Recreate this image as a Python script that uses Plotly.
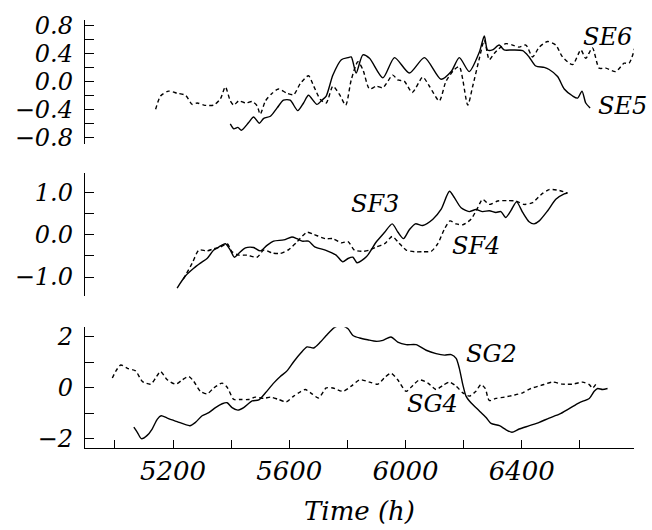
import plotly.graph_objects as go

# ---------------- data ----------------
se6_t = [5140, 5157, 5185, 5214, 5243, 5266, 5283, 5306, 5340, 5363, 5380, 5397, 5409, 5426, 5449, 5472,
         5489, 5500, 5518, 5541, 5563, 5592, 5615, 5638, 5666, 5684, 5707, 5727, 5750, 5773, 5794, 5813,
         5836, 5853, 5876, 5899, 5922, 5956, 5973, 5996, 6023, 6059, 6082, 6116, 6139, 6168, 6185, 6214,
         6231, 6254, 6271, 6288, 6305, 6322, 6345, 6368, 6391, 6414, 6437, 6460, 6489, 6517, 6540, 6575,
         6603, 6620, 6643, 6666, 6689, 6723, 6752, 6769, 6788]
se6_v = [-0.40, -0.21, -0.14, -0.17, -0.20, -0.33, -0.31, -0.34, -0.34, -0.25, -0.08, -0.28, -0.34, -0.28, -0.31, -0.29,
         -0.35, -0.47, -0.28, -0.17, -0.11, -0.17, -0.19, -0.03, 0.08, -0.07, -0.26, -0.31, -0.07, -0.19, -0.34, 0.02,
         0.28, 0.17, -0.11, -0.07, -0.09, 0.09, 0.02, 0.00, -0.16, 0.06, -0.07, -0.28, 0.00, 0.17, 0.21, -0.34,
         -0.07, 0.33, 0.59, 0.31, 0.40, 0.47, 0.54, 0.52, 0.49, 0.52, 0.35, 0.49, 0.57, 0.52, 0.35, 0.24,
         0.45, 0.33, 0.48, 0.19, 0.19, 0.14, 0.26, 0.26, 0.47]

se5_t = [5397, 5409, 5423, 5435, 5460, 5477, 5497, 5512, 5535, 5558, 5580, 5603, 5629, 5649, 5666, 5695,
         5712, 5727, 5750, 5779, 5802, 5813, 5830, 5853, 5876, 5922, 5962, 6013, 6065, 6122, 6157, 6185,
         6219, 6254, 6271, 6282, 6299, 6322, 6339, 6368, 6403, 6425, 6448, 6477, 6494, 6523, 6546, 6575,
         6592, 6607, 6620, 6635]
se5_v = [-0.61, -0.68, -0.66, -0.70, -0.59, -0.51, -0.60, -0.53, -0.50, -0.38, -0.27, -0.27, -0.42, -0.31, -0.20, -0.33,
         -0.27, -0.21, 0.09, 0.31, 0.34, 0.35, 0.12, 0.38, 0.33, 0.05, 0.34, 0.12, 0.34, 0.03, 0.14, 0.34,
         0.14, 0.42, 0.65, 0.45, 0.45, 0.52, 0.45, 0.45, 0.44, 0.35, 0.22, 0.20, 0.17, 0.07, -0.11, -0.21,
         -0.24, -0.14, -0.31, -0.38]

sf3_t = [5214, 5243, 5271, 5294, 5317, 5340, 5357, 5380, 5397, 5411, 5426, 5449, 5477, 5500, 5523, 5546,
         5581, 5609, 5626, 5644, 5666, 5689, 5724, 5761, 5784, 5802, 5819, 5833, 5865, 5899, 5928, 5954,
         5974, 5993, 6013, 6034, 6059, 6094, 6122, 6151, 6168, 6191, 6219, 6242, 6265, 6288, 6311, 6328,
         6345, 6363, 6382, 6403, 6425, 6442, 6460, 6489, 6517, 6546, 6557]
sf3_v = [-1.26, -0.97, -0.79, -0.67, -0.56, -0.36, -0.29, -0.21, -0.36, -0.53, -0.44, -0.31, -0.30, -0.38, -0.25, -0.15,
         -0.12, -0.05, -0.09, -0.15, -0.15, -0.29, -0.36, -0.48, -0.64, -0.56, -0.53, -0.66, -0.52, -0.17, 0.06, 0.26,
         0.06, -0.09, 0.12, 0.26, 0.22, 0.37, 0.60, 1.03, 0.88, 0.64, 0.55, 0.60, 0.55, 0.57, 0.53, 0.55,
         0.41, 0.58, 0.78, 0.53, 0.31, 0.26, 0.33, 0.57, 0.84, 0.97, 0.99]

sf4_t = [5235, 5266, 5289, 5317, 5340, 5363, 5386, 5403, 5426, 5455, 5489, 5512, 5541, 5569, 5598, 5626,
         5661, 5684, 5724, 5750, 5779, 5802, 5824, 5853, 5876, 5899, 5928, 5954, 5974, 6002, 6031, 6059,
         6088, 6111, 6134, 6153, 6174, 6197, 6225, 6248, 6265, 6288, 6317, 6351, 6380, 6408, 6437, 6466,
         6494, 6529, 6557]
sf4_v = [-1.05, -0.67, -0.36, -0.38, -0.33, -0.29, -0.21, -0.40, -0.48, -0.48, -0.53, -0.36, -0.43, -0.44, -0.35, -0.17,
         0.06, 0.01, -0.09, -0.09, -0.19, -0.16, -0.36, -0.39, -0.36, -0.29, -0.21, -0.04, -0.17, -0.36, -0.40, -0.40,
         -0.39, -0.21, 0.14, 0.33, 0.26, 0.24, 0.37, 0.64, 0.84, 0.72, 0.80, 0.81, 0.80, 0.72, 0.76, 0.95,
         1.07, 1.05, 0.99]

sg2_t = [5065, 5077, 5091, 5111, 5128, 5146, 5159, 5180, 5214, 5258, 5277, 5300, 5323, 5346, 5369, 5386,
         5403, 5423, 5443, 5472, 5495, 5518, 5546, 5569, 5592, 5615, 5638, 5661, 5684, 5707, 5727, 5756,
         5779, 5802, 5819, 5842, 5870, 5899, 5922, 5950, 5973, 6002, 6036, 6071, 6105, 6134, 6157, 6174,
         6185, 6197, 6208, 6225, 6254, 6277, 6294, 6323, 6346, 6366, 6391, 6426, 6460, 6494, 6529, 6563,
         6597, 6632, 6649, 6661, 6678, 6695]
sg2_v = [-1.54, -1.74, -1.99, -1.86, -1.61, -1.22, -1.09, -1.18, -1.32, -1.48, -1.35, -1.09, -0.97, -0.77, -0.62, -0.58,
         -0.77, -0.87, -0.77, -0.51, -0.47, -0.19, 0.19, 0.45, 0.67, 1.03, 1.35, 1.61, 1.57, 1.80, 2.06, 2.38,
         2.45, 2.32, 2.06, 1.96, 1.89, 1.83, 1.87, 2.00, 1.80, 1.70, 1.70, 1.48, 1.35, 1.29, 1.31, 1.16,
         0.77, 0.13, -0.32, -0.58, -0.90, -1.16, -1.39, -1.48, -1.64, -1.74, -1.61, -1.48, -1.35, -1.18, -1.03, -0.81,
         -0.58, -0.41, -0.13, -0.02, -0.06, -0.02]

sg4_t = [4991, 5002, 5020, 5043, 5071, 5094, 5123, 5140, 5157, 5180, 5209, 5232, 5254, 5271, 5294, 5317,
         5340, 5369, 5386, 5409, 5432, 5460, 5483, 5512, 5535, 5563, 5590, 5615, 5638, 5655, 5678, 5701,
         5727, 5750, 5784, 5813, 5842, 5876, 5905, 5928, 5950, 5973, 6002, 6025, 6048, 6077, 6105, 6128,
         6151, 6174, 6197, 6219, 6242, 6259, 6274, 6288, 6311, 6340, 6374, 6403, 6431, 6466, 6506, 6540,
         6575, 6609, 6632, 6643, 6657]
sg4_v = [0.39, 0.64, 0.90, 0.77, 0.67, 0.26, 0.15, 0.39, 0.64, 0.32, 0.15, 0.32, 0.45, 0.26, -0.13, -0.23,
         0.00, 0.19, 0.03, -0.45, -0.45, -0.45, -0.36, -0.41, -0.36, -0.45, -0.54, -0.32, -0.15, -0.06, -0.23, -0.39,
         0.00, 0.00, -0.13, 0.07, 0.32, 0.23, 0.15, 0.41, 0.58, 0.32, -0.13, 0.10, 0.32, 0.19, -0.06, 0.10,
         0.23, 0.07, -0.19, -0.32, -0.13, 0.13, -0.02, -0.49, -0.41, -0.36, -0.28, -0.19, -0.02, 0.10, 0.23, 0.15,
         0.15, 0.23, 0.13, 0.00, 0.19]

# tick labels
x_tickvals = [5200, 5600, 6000, 6400]
x_ticktext = ["5200", "5600", "6000", "6400"]
top_tickvals = [0.8, 0.4, 0.0, -0.4, -0.8]
top_ticktext = ["0.8", "0.4", "0.0", "−0.4", "−0.8"]
mid_tickvals = [1.0, 0.0, -1.0]
mid_ticktext = ["1.0", "0.0", "−1.0"]
bot_tickvals = [2, 0, -2]
bot_ticktext = ["2", "0", "−2"]

x_range = [4897, 6786]
top_range = [-0.893, 0.879]
mid_range = [-1.449, 1.458]
bot_range = [-2.355, 2.38]

# ---------------- figure ----------------
DASH = "4px,3px"
LW = 1.4
fig = go.Figure()

def add(t, v, xa, ya, dashed):
    fig.add_trace(go.Scatter(x=t, y=v, mode="lines", xaxis=xa, yaxis=ya, showlegend=False,
                             line=dict(color="black", width=LW, dash=DASH if dashed else "solid",
                                       shape="spline", smoothing=0.7)))

add(se6_t, se6_v, "x3", "y3", True)
add(se5_t, se5_v, "x3", "y3", False)
add(sf3_t, sf3_v, "x2", "y2", False)
add(sf4_t, sf4_v, "x2", "y2", True)
add(sg2_t, sg2_v, "x", "y", False)
add(sg4_t, sg4_v, "x", "y", True)

tick_font = dict(family="DejaVu Serif", size=24, color="black")
xtick_font = dict(family="DejaVu Serif", size=26, color="black")
lab_font = dict(family="DejaVu Serif", size=24, color="black", style="italic")

def it(labels):
    return ["<i>" + s + "</i>" for s in labels]

def yax(domain, rng, vals, texts, minor, anchor):
    return dict(domain=domain, range=rng, anchor=anchor, showgrid=False, zeroline=False,
                showline=True, linecolor="black", linewidth=1.4,
                ticks="inside", ticklen=9, tickwidth=1.3, tickcolor="black",
                ticklabelstandoff=6,
                tickmode="array", tickvals=vals, ticktext=it(texts), tickfont=tick_font,
                minor=dict(dtick=minor, tick0=0, ticks="inside", ticklen=9, tickwidth=1.3, tickcolor="black"))

hidden_x = dict(range=x_range, showline=False, showgrid=False, zeroline=False,
                showticklabels=False, ticks="")

fig.update_layout(
    width=652, height=530,
    margin=dict(l=85, r=18, t=13, b=82),
    paper_bgcolor="white", plot_bgcolor="white",
    xaxis=dict(domain=[0, 1], range=x_range, anchor="y", showgrid=False, zeroline=False,
               showline=True, linecolor="black", linewidth=1.4,
               ticks="inside", ticklen=8, tickwidth=1.3, tickcolor="black",
               tickmode="array", tickvals=x_tickvals, ticktext=it(x_ticktext), tickfont=xtick_font,
               minor=dict(dtick=200, tick0=5000, ticks="inside", ticklen=8, tickwidth=1.3, tickcolor="black")),
    xaxis2=dict(domain=[0, 1], anchor="y2", **hidden_x),
    xaxis3=dict(domain=[0, 1], anchor="y3", **hidden_x),
    yaxis=yax([0.0, 0.282], bot_range, bot_tickvals, bot_ticktext, 1, "x"),
    yaxis2=yax([0.355, 0.642], mid_range, mid_tickvals, mid_ticktext, 0.5, "x2"),
    yaxis3=yax([0.711, 1.0], top_range, top_tickvals, top_ticktext, 0.2, "x3"),
)

labels = [("SE6", 6694, 0.635, "x3", "y3"), ("SE5", 6746, -0.353, "x3", "y3"),
          ("SF3", 5896, 0.72, "x2", "y2"), ("SF4", 6243, -0.267, "x2", "y2"),
          ("SG2", 6294, 1.34, "x", "y"), ("SG4", 6093, -0.63, "x", "y")]
for txt, xv, yv, xr, yr in labels:
    fig.add_annotation(text=txt, x=xv, y=yv, xref=xr, yref=yr, showarrow=False,
                       font=lab_font, xanchor="center", yanchor="middle")

fig.add_annotation(text="Time (h)", x=0.5, y=-0.148, xref="paper", yref="paper", showarrow=False,
                   font=dict(family="DejaVu Serif", size=26, color="black", style="italic"),
                   xanchor="center", yanchor="middle")

fig.write_html("out.html")
